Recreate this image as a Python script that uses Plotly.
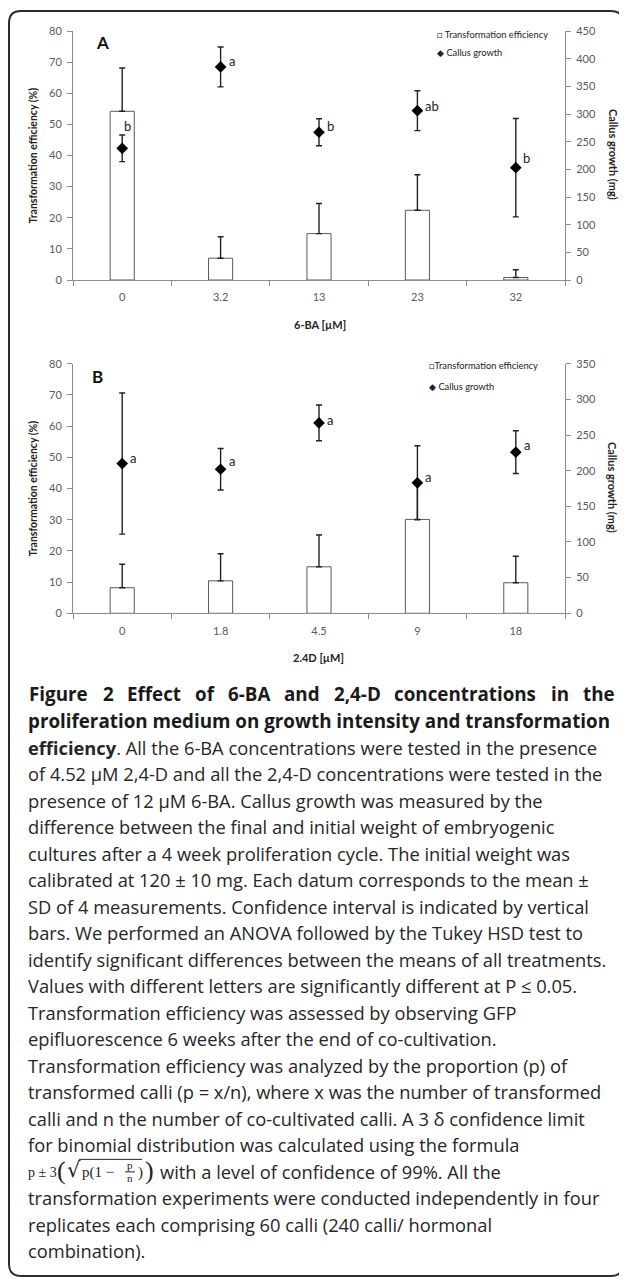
import plotly.graph_objects as go

# reference canvas (window) size and page offset caused by the body margin
W, H = 627, 1285
OFF = 8
FIG_W, FIG_H = W - OFF, H - 2 * OFF

# ---------------- data ----------------
cats_A = ["0", "3.2", "13", "23", "32"]
eff_A = [54.2, 7.0, 14.9, 22.4, 0.8]
eff_err_A = [13.9, 6.9, 9.7, 11.4, 2.5]
callus_A = [238, 385, 267, 306, 203]
callus_err_A = [24, 36, 24.5, 36, 89]
letters_A = ["b", "a", "b", "ab", "b"]

cats_B = ["0", "1.8", "4.5", "9", "18"]
eff_B = [8.2, 10.4, 14.9, 30.1, 9.8]
eff_err_B = [7.5, 8.7, 10.2, 12.0, 8.5]
callus_B = [210, 202, 267, 183, 226]
callus_err_B = [99, 29, 25, 52, 30]
letters_B = ["a", "a", "a", "a", "a"]

title_words = ["Figure", "2", "Effect", "of", "6-BA", "and", "2,4-D",
               "concentrations", "in", "the"]
caption_lines = [
    None,  # justified bold title line (placed word by word)
    "<b>proliferation medium on growth intensity and transformation</b>",
    "<b>efficiency</b>. All the 6-BA concentrations were tested in the presence",
    "of 4.52 µM 2,4-D and all the 2,4-D concentrations were tested in the",
    "presence of 12 µM 6-BA. Callus growth was measured by the",
    "difference between the final and initial weight of embryogenic",
    "cultures after a 4 week proliferation cycle. The initial weight was",
    "calibrated at 120 ± 10 mg. Each datum corresponds to the mean ±",
    "SD of 4 measurements. Confidence interval is indicated by vertical",
    "bars. We performed an ANOVA followed by the Tukey HSD test to",
    "identify significant differences between the means of all treatments.",
    "Values with different letters are significantly different at P ≤ 0.05.",
    "Transformation efficiency was assessed by observing GFP",
    "epifluorescence 6 weeks after the end of co-cultivation.",
    "Transformation efficiency was analyzed by the proportion (p) of",
    "transformed calli (p = x/n), where x was the number of transformed",
    "calli and n the number of co-cultivated calli. A 3 δ confidence limit",
    "for binomial distribution was calculated using the formula",
    None,  # formula line
    "transformation experiments were conducted independently in four",
    "replicates each comprising 60 calli (240 calli/ hormonal",
    "combination).",
]
formula_tail = "with a level of confidence of 99%. All the"

# ---------------- helpers ----------------
def px(x):
    return (x - OFF) / FIG_W

def py(y):
    return 1 - (y - OFF) / FIG_H

GRAY_AX = "#8c8c8c"
TICK_FONT = dict(family="Lato", size=11, color="#595959")
CHART_FONT = "Lato"
CAP_FONT = "Open Sans"
CAP_COLOR = "#262626"

fig = go.Figure()

def add_panel(cats, eff, eff_err, callus, callus_err, xa, ya, ya2):
    fig.add_trace(go.Bar(
        x=cats, y=eff, width=0.245,
        marker=dict(color="white", line=dict(color="#595959", width=1)),
        error_y=dict(type="data", symmetric=False, array=eff_err,
                     arrayminus=[0] * len(eff), color="#222222",
                     thickness=1.4, width=3),
        xaxis=xa, yaxis=ya, showlegend=False,
    ))
    fig.add_trace(go.Scatter(
        x=cats, y=callus, mode="markers",
        marker=dict(symbol="diamond", size=9, color="black"),
        error_y=dict(type="data", array=callus_err, color="#222222",
                     thickness=1.4, width=3),
        xaxis=xa, yaxis=ya2, showlegend=False,
    ))

add_panel(cats_A, eff_A, eff_err_A, callus_A, callus_err_A, "x", "y", "y2")
add_panel(cats_B, eff_B, eff_err_B, callus_B, callus_err_B, "x2", "y3", "y4")

xdom = [px(73), px(565)]
common_x = dict(type="category", range=[-0.5, 4.5], showline=True,
                linecolor=GRAY_AX, linewidth=1, ticks="outside",
                tickson="boundaries", ticklen=5, tickcolor=GRAY_AX,
                tickfont=TICK_FONT, showgrid=False, zeroline=False,
                ticklabelstandoff=7, fixedrange=True, automargin=False)
common_y = dict(showline=True, linecolor=GRAY_AX, linewidth=1,
                ticks="outside", ticklen=5, tickcolor=GRAY_AX,
                tickfont=TICK_FONT, showgrid=False, zeroline=False,
                ticklabelstandoff=3, fixedrange=True, automargin=False)

fig.update_layout(
    width=FIG_W, height=FIG_H,
    margin=dict(l=0, r=0, t=0, b=0, pad=0, autoexpand=False),
    paper_bgcolor="white", plot_bgcolor="rgba(0,0,0,0)",
    showlegend=False,
    barmode="overlay",
    xaxis=dict(domain=xdom, anchor="y", **common_x),
    yaxis=dict(domain=[py(280), py(31)], range=[0, 80], dtick=10,
               anchor="x", **common_y),
    yaxis2=dict(overlaying="y", side="right", anchor="x", range=[0, 450],
                dtick=50, **common_y),
    xaxis2=dict(domain=xdom, anchor="y3", **common_x),
    yaxis3=dict(domain=[py(613.3), py(363.7)], range=[0, 80], dtick=10,
                anchor="x2", **common_y),
    yaxis4=dict(overlaying="y3", side="right", anchor="x2", range=[0, 350],
                dtick=50, **common_y),
)

ann = []

def paper_text(text, x, y, size, family=CHART_FONT, color="#222222",
               xanchor="center", angle=0, yanchor="middle"):
    ann.append(dict(text=text, x=px(x), y=py(y), xref="paper", yref="paper",
                    showarrow=False, xanchor=xanchor, yanchor=yanchor,
                    textangle=angle,
                    font=dict(family=family, size=size, color=color)))

# significance letters (x given as category index)
yshift_A = [22, 6, 6, 5, 10]
xshift_A = [0, 6, 6, 6, 5]
for i, (v, l) in enumerate(zip(callus_A, letters_A)):
    ann.append(dict(text=l, x=i, y=v, xref="x", yref="y2", showarrow=False,
                    xanchor="left", yanchor="middle", xshift=xshift_A[i],
                    yshift=yshift_A[i],
                    font=dict(family=CHART_FONT, size=13, color="#222222")))
yshift_B = [6, 8, 3, 6, 7]
for i, (v, l) in enumerate(zip(callus_B, letters_B)):
    ann.append(dict(text=l, x=i, y=v, xref="x2", yref="y4", showarrow=False,
                    xanchor="left", yanchor="middle", xshift=6,
                    yshift=yshift_B[i],
                    font=dict(family=CHART_FONT, size=13, color="#222222")))

# panel labels
paper_text("<b>A</b>", 102, 42, 17, color="#111111")
paper_text("<b>B</b>", 97.5, 376.5, 17, color="#111111")

# legends
paper_text("□ Transformation efficiency", 435, 34, 9.3, xanchor="left")
paper_text("◆ Callus growth", 435, 52, 9.3, xanchor="left")
paper_text("□Transformation efficiency", 427, 366, 9.3, xanchor="left")
paper_text("◆ Callus growth", 427, 386, 9.3, xanchor="left")

# axis titles
paper_text("<b>Transformation efficiency (%)</b>", 32, 155.5, 10.5, angle=-90)
paper_text("<b>Callus growth (mg)</b>", 613, 154, 11, angle=90)
paper_text("<b>6-BA [µM]</b>", 320, 324, 11)
paper_text("<b>Transformation efficiency (%)</b>", 32, 488.5, 10.5, angle=-90)
paper_text("<b>Callus growth (mg)</b>", 613, 487, 11, angle=90)
paper_text("<b>2.4D [µM]</b>", 318.5, 657, 11)

# caption
y0, dy = 694, 26.52
word_lefts = [26.7, 100.5, 124.8, 193.4, 226.3, 282.1, 332.1, 392.2, 549.0,
              580.8]
for w, lx in zip(title_words, word_lefts):
    paper_text(f"<b>{w}</b>", lx, y0, 18.8, family=CAP_FONT,
               color="#1a1a1a", xanchor="left")
for i, line in enumerate(caption_lines):
    if line is None:
        continue
    yy = y0 + i * dy
    size = 18.8 if i == 1 else 18.3
    paper_text(line, 26, yy, size, family=CAP_FONT,
               color="#1a1a1a" if i == 1 else CAP_COLOR, xanchor="left")

# formula line
fy = y0 + 18 * dy
SERIF = "Liberation Serif"
FC = "#222222"
paper_text("p ± 3", 26, fy + 1, 14, family=SERIF, color=FC, xanchor="left")
paper_text("(", 55, fy - 1, 26, family=SERIF, color=FC, xanchor="left")
paper_text("√", 65, fy - 1, 21, family="DejaVu Serif", color=FC,
           xanchor="left")
paper_text("p(1 −", 80, fy + 1, 15, family=SERIF, color=FC, xanchor="left")
paper_text("p", 130, fy - 6, 11, family=SERIF, color=FC)
paper_text("n", 130, fy + 7, 11, family=SERIF, color=FC)
paper_text(")", 136, fy + 1, 15, family=SERIF, color=FC, xanchor="left")
paper_text(")", 143, fy - 1, 26, family=SERIF, color=FC, xanchor="left")
paper_text(formula_tail, 158, fy, 18.3, family=CAP_FONT, color=CAP_COLOR,
           xanchor="left")

shapes = []
# radical overline and fraction bar
shapes.append(dict(type="line", xref="paper", yref="paper",
                   x0=px(79), x1=px(142), y0=py(fy - 12), y1=py(fy - 12),
                   line=dict(color=FC, width=1)))
shapes.append(dict(type="line", xref="paper", yref="paper",
                   x0=px(125), x1=px(135), y0=py(fy + 0.5), y1=py(fy + 0.5),
                   line=dict(color=FC, width=1)))

# rounded border
L, R, T, B, r = 9, 623, 11, 1276, 12
def P(x, y):
    return f"{px(x):.5f},{py(y):.5f}"
path = (f"M {P(L + r, T)} L {P(R - r, T)} Q {P(R, T)} {P(R, T + r)} "
        f"L {P(R, B - r)} Q {P(R, B)} {P(R - r, B)} "
        f"L {P(L + r, B)} Q {P(L, B)} {P(L, B - r)} "
        f"L {P(L, T + r)} Q {P(L, T)} {P(L + r, T)} Z")
shapes.append(dict(type="path", xref="paper", yref="paper", path=path,
                   line=dict(color="#2b2b2b", width=2)))

fig.update_layout(annotations=ann, shapes=shapes)
fig.write_html("out.html")
